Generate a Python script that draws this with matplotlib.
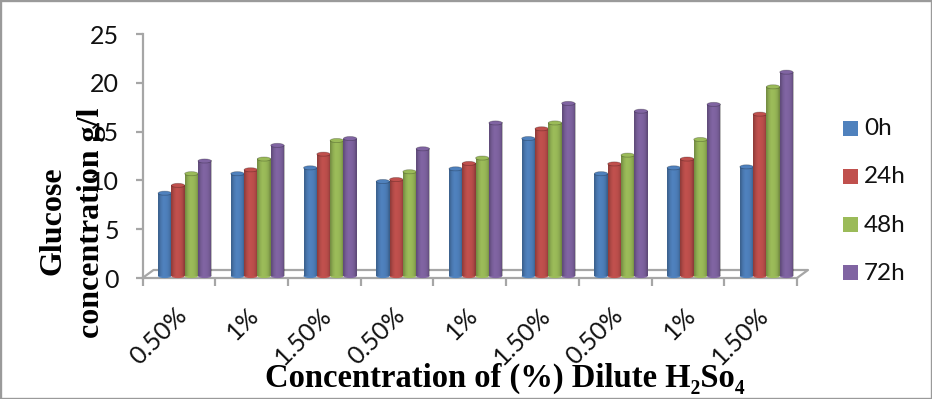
import numpy as np
import matplotlib
matplotlib.use("Agg")
import matplotlib.pyplot as plt
from matplotlib.patches import Rectangle, Ellipse

categories = ["0.50%", "1%", "1.50%", "0.50%", "1%", "1.50%", "0.50%", "1%", "1.50%"]
series_names = ["0h", "24h", "48h", "72h"]
h0 = [8.9, 10.9, 11.5, 10.1, 11.4, 14.5, 10.9, 11.5, 11.6]
h24 = [9.7, 11.3, 12.9, 10.3, 11.95, 15.5, 11.9, 12.4, 17.0]
h48 = [10.9, 12.4, 14.3, 11.1, 12.5, 16.1, 12.8, 14.4, 19.8]
h72 = [12.2, 13.8, 14.5, 13.45, 16.1, 18.1, 17.3, 18.0, 21.3]
colors = ["#4F81BD", "#C0504D", "#9BBB59", "#8064A2"]
yticks = [0, 5, 10, 15, 20, 25]

W, H = 932, 399
fig = plt.figure(figsize=(W / 100, H / 100), dpi=100, facecolor="white")
fig.add_artist(Rectangle((0, 0), 1, 1, transform=fig.transFigure, fill=False,
                         ec="#9a9a9a", lw=2.4))

L, R, T, B = 142.5, 797, 34, 278
ax = fig.add_axes([L / W, 1 - B / H, (R - L) / W, (B - T) / H])
ax.patch.set_alpha(0)

GRAY = "#a6a6a6"
for s in ["top", "right"]:
    ax.spines[s].set_visible(False)
for s in ["left", "bottom"]:
    ax.spines[s].set_color(GRAY)
    ax.spines[s].set_linewidth(1.6)

# 3D floor outline (axes fractions)
dx, dy = 11 / (R - L), 8 / (B - T)
ax.plot([0, dx, 1 + dx, 1], [0, dy, dy, 0], color=GRAY, lw=1.6,
        transform=ax.transAxes, clip_on=False, zorder=1)

base = 0.2
bw = 0.183
off = 0.08
ell_h = 0.42
grad = np.array([0.24, 0.12, 0.04, 0.0, 0.0, 0.02, 0.05, 0.12, 0.26])
rgba = np.zeros((1, grad.size, 4))
rgba[0, :, 3] = grad

for j, vals in enumerate([h0, h24, h48, h72]):
    xs = np.arange(len(vals)) + 0.5 + off + (j - 1.5) * bw
    tops = np.array(vals) - ell_h / 2
    ax.bar(xs, tops - base, bw, bottom=base, color=colors[j], zorder=3 + j,
           clip_on=False, label=series_names[j])
    for x, t in zip(xs, tops):
        ax.imshow(rgba, extent=[x - bw / 2, x + bw / 2, base, t], aspect="auto",
                  interpolation="bilinear", zorder=3.1 + j, clip_on=False)
        ax.add_patch(Ellipse((x, base), bw, ell_h, fc=colors[j], ec="none",
                             zorder=3 + j, clip_on=False))
        ax.add_patch(Ellipse((x, t), bw, ell_h, fc=colors[j], ec="#00000040",
                             lw=0.6, zorder=3.2 + j, clip_on=False))

ax.set_xlim(0, 9)
ax.set_ylim(0, 25)
ax.set_yticks(yticks)
ax.set_yticklabels([str(v) for v in yticks], fontsize=18, family="Lato", color="#111111")
ax.tick_params(axis="y", length=5, width=1.6, color=GRAY, pad=12)
ax.set_xticks(np.arange(0, 10))
ax.set_xticklabels([""] * 10)
ax.tick_params(axis="x", length=5.5, width=1.6, color=GRAY)

for i, c in enumerate(categories):
    ax.annotate(c, xy=(i + 0.5, 0), xycoords=("data", "axes fraction"),
                xytext=(4, -33), textcoords="offset pixels",
                rotation=45, ha="right", va="center", rotation_mode="anchor",
                fontsize=18, family="Lato", color="#111111", annotation_clip=False)

# legend, placed manually in figure pixels
for i, (name, col) in enumerate(zip(series_names, colors)):
    y = 121 + 48 * i
    fig.add_artist(Rectangle((843 / W, 1 - (y + 15) / H), 15 / W, 15 / H,
                             transform=fig.transFigure, fc=col, ec="none"))
    fig.text(864 / W, 1 - (y + 8) / H, name, fontsize=17.5, family="Lato",
             va="center", ha="left", color="#111111")

serif = dict(family="Liberation Serif", weight="bold", color="black")
fig.text(53 / W, 1 - 221 / H, "Glucose", rotation=90, ha="center", va="center", fontsize=23, **serif)
fig.text(91 / W, 1 - 223 / H, "concentration g/l", rotation=90, ha="center", va="center", fontsize=23, **serif)
fig.text(505 / W, 1 - 378 / H, "Concentration of (%) Dilute H\u2082So\u2084",
         ha="center", va="center", fontsize=23.5, **serif)

fig.savefig("out.png", dpi=100)
